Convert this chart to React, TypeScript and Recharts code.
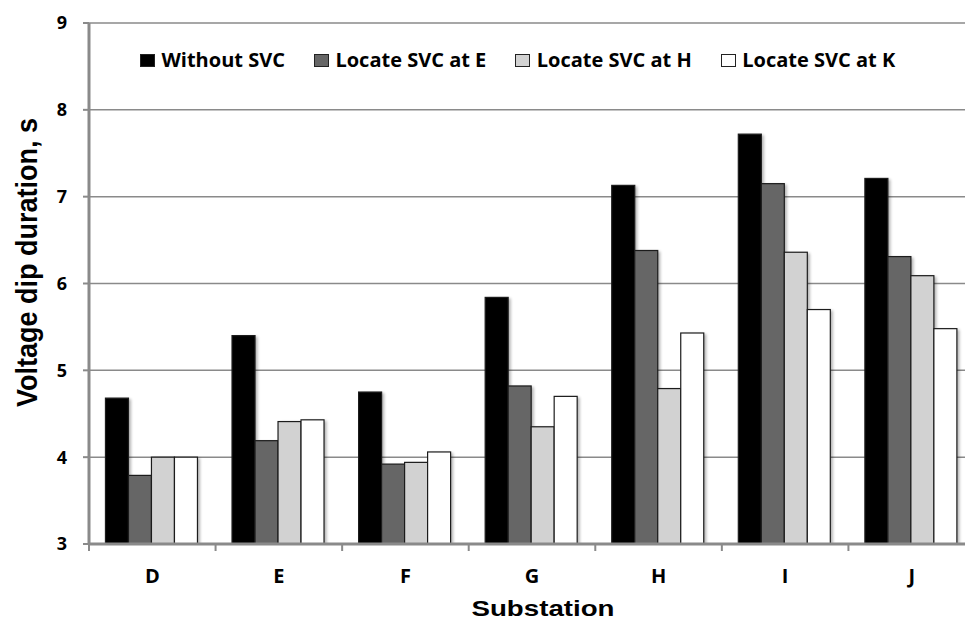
import React from 'react';
import { BarChart, Bar, XAxis, YAxis, CartesianGrid, Legend, Label } from 'recharts';

// Substations along the feeder
const categories = ['D', 'E', 'F', 'G', 'H', 'I', 'J'];

// Voltage dip duration (s) for each SVC placement
const withoutSvc = [4.68, 5.4, 4.75, 5.84, 7.13, 7.72, 7.21];
const svcAtE = [3.79, 4.19, 3.92, 4.82, 6.38, 7.15, 6.31];
const svcAtH = [4.0, 4.41, 3.94, 4.35, 4.79, 6.36, 6.09];
const svcAtK = [4.0, 4.43, 4.06, 4.7, 5.43, 5.7, 5.48];

const yTicks = [3, 4, 5, 6, 7, 8, 9];

const seriesNames = ['Without SVC', 'Locate SVC at E', 'Locate SVC at H', 'Locate SVC at K'];
const seriesColors = ['#000000', '#666666', '#d2d2d2', '#ffffff'];
const seriesKeys = ['withoutSvc', 'svcAtE', 'svcAtH', 'svcAtK'];

const data = categories.map((name, i) => ({
  name,
  withoutSvc: withoutSvc[i],
  svcAtE: svcAtE[i],
  svcAtH: svcAtH[i],
  svcAtK: svcAtK[i],
}));

const LABEL_FONT = '"Open Sans", "DejaVu Sans", sans-serif';
const TITLE_FONT = '"Liberation Sans", Arial, sans-serif';
const AXIS_GREY = '#8a8a8a';

// Bar with a soft drop shadow cast to the right
const ShadowBar = (props: any) => {
  const { x, y, width, height, fill } = props;
  if (!height || height <= 0) return null;
  return (
    <g>
      <rect x={x + 2.5} y={y + 1} width={width} height={height} fill="#000" opacity={0.3} filter="url(#barShadow)" />
      <rect x={x} y={y} width={width} height={height} fill={fill} stroke="#1c1c1c" strokeWidth={1.2} />
    </g>
  );
};

// Category label centred in the band, tick mark on the band's left edge
const CategoryTick = (props: any) => {
  const { x, y, payload, width, index, visibleTicksCount } = props;
  const half = payload && payload.offset ? payload.offset : width / categories.length / 2;
  const axisY = y - 7;
  const isLast = index === (visibleTicksCount ?? categories.length) - 1;
  return (
    <g>
      <line x1={x - half} y1={axisY} x2={x - half} y2={axisY + 7} stroke={AXIS_GREY} strokeWidth={2} />
      {isLast && (
        <line x1={x + half} y1={axisY} x2={x + half} y2={axisY + 7} stroke={AXIS_GREY} strokeWidth={2} />
      )}
      <text
        x={x}
        y={axisY + 39}
        textAnchor="middle"
        fontFamily={LABEL_FONT}
        fontWeight={700}
        fontSize={20}
        fill="#000"
      >
        {payload.value}
      </text>
    </g>
  );
};

const LegendContent = (props: any) => {
  const payload = [...(props.payload || [])].sort(
    (a: any, b: any) => seriesNames.indexOf(a.value) - seriesNames.indexOf(b.value)
  );
  return (
    <div
      style={{
        display: 'flex',
        alignItems: 'center',
        fontFamily: LABEL_FONT,
        fontWeight: 700,
        fontSize: 20,
        lineHeight: 1,
        whiteSpace: 'nowrap',
        color: '#000',
      }}
    >
      {payload.map((entry: any, i: number) => (
        <div key={i} style={{ display: 'flex', alignItems: 'center', marginRight: 29 }}>
          <span
            style={{
              display: 'inline-block',
              width: 15,
              height: 13,
              boxSizing: 'border-box',
              background: entry.color,
              border: '1.2px solid #222',
              marginRight: 6.5,
            }}
          />
          <span>{entry.value}</span>
        </div>
      ))}
    </div>
  );
};

export default function App() {
  return (
    <div style={{ width: 965, height: 619, overflow: 'hidden' }}>
      <style>{'body { margin: 0; }'}</style>
      <BarChart
        width={998}
        height={619}
        data={data}
        margin={{ top: 23, right: 23, left: 0, bottom: 0 }}
        barCategoryGap="13%"
        barGap={0}
        style={{ fontFamily: LABEL_FONT }}
      >
        <defs>
          <filter id="barShadow" x="-50%" y="-10%" width="200%" height="120%">
            <feGaussianBlur stdDeviation="1.6" />
          </filter>
        </defs>
        <CartesianGrid vertical={false} stroke={AXIS_GREY} strokeWidth={1.5} />
        <XAxis
          dataKey="name"
          height={75}
          axisLine={{ stroke: AXIS_GREY, strokeWidth: 3 }}
          tickLine={false}
          tickSize={7}
          tickMargin={0}
          tick={<CategoryTick />}
          interval={0}
        >
          <Label
            content={() => (
              <text
                x={543}
                y={615.5}
                textAnchor="middle"
                fontFamily={TITLE_FONT}
                fontWeight={700}
                fontSize={22}
                textLength={143}
                lengthAdjust="spacingAndGlyphs"
                fill="#000"
              >
                Substation
              </text>
            )}
          />
        </XAxis>
        <YAxis
          width={89}
          domain={[3, 9]}
          ticks={yTicks}
          interval={0}
          allowDataOverflow
          axisLine={{ stroke: AXIS_GREY, strokeWidth: 3 }}
          tickLine={{ stroke: AXIS_GREY, strokeWidth: 2 }}
          tickSize={6}
          tickMargin={16}
          tick={{ fontFamily: LABEL_FONT, fontWeight: 700, fontSize: 18, fill: '#000' }}
        >
          <Label
            content={() => (
              <text
                x={36.5}
                y={262.5}
                transform="rotate(-90 36.5 262.5)"
                textAnchor="middle"
                fontFamily={TITLE_FONT}
                fontWeight={700}
                fontSize={30}
                textLength={289}
                lengthAdjust="spacingAndGlyphs"
                fill="#000"
              >
                Voltage dip duration, s
              </text>
            )}
          />
        </YAxis>
        <Legend
          layout="vertical"
          align="center"
          verticalAlign="middle"
          content={<LegendContent />}
          wrapperStyle={{ top: 50, left: 140, width: 820 }}
        />
        {seriesKeys.map((key, i) => (
          <Bar
            key={key}
            dataKey={key}
            name={seriesNames[i]}
            fill={seriesColors[i]}
            shape={<ShadowBar />}
            isAnimationActive={false}
          />
        ))}
      </BarChart>
    </div>
  );
}
